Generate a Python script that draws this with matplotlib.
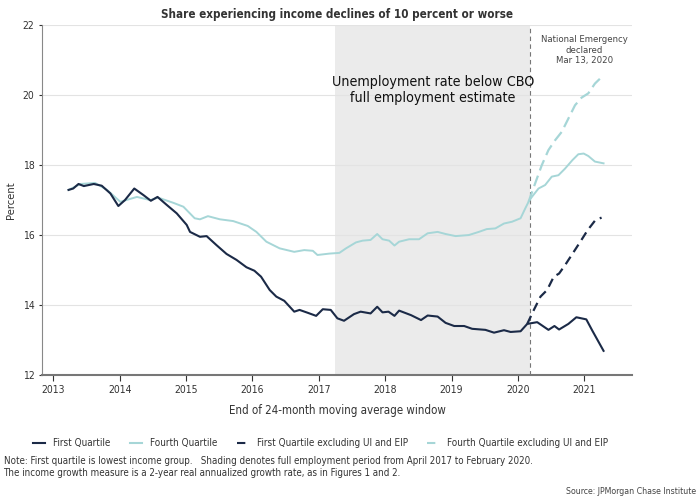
import matplotlib.pyplot as plt
from matplotlib.lines import Line2D

# first quartile (decimal year, percent)
q1_year = [2013.23, 2013.30, 2013.38, 2013.46, 2013.61, 2013.73, 2013.86, 2013.98, 2014.08, 2014.22,
           2014.36, 2014.47, 2014.57, 2014.71, 2014.86, 2015.01, 2015.06, 2015.21, 2015.31, 2015.46,
           2015.61, 2015.76, 2015.91, 2016.03, 2016.13, 2016.26, 2016.36, 2016.48, 2016.63, 2016.71,
           2016.83, 2016.96, 2017.06, 2017.18, 2017.28, 2017.38, 2017.53, 2017.63, 2017.78, 2017.88,
           2017.96, 2018.05, 2018.14, 2018.21, 2018.39, 2018.54, 2018.64, 2018.79, 2018.91, 2019.04,
           2019.19, 2019.31, 2019.51, 2019.64, 2019.79, 2019.89, 2020.04, 2020.14, 2020.29, 2020.46,
           2020.55, 2020.62, 2020.76, 2020.88, 2021.03, 2021.12, 2021.29]
q1_val = [17.29, 17.33, 17.46, 17.40, 17.46, 17.41, 17.19, 16.83, 17.00, 17.33,
          17.14, 16.98, 17.09, 16.86, 16.62, 16.29, 16.09, 15.95, 15.97, 15.71,
          15.46, 15.29, 15.08, 14.98, 14.81, 14.43, 14.24, 14.12, 13.81, 13.86,
          13.78, 13.69, 13.88, 13.86, 13.62, 13.55, 13.74, 13.81, 13.76, 13.95,
          13.79, 13.81, 13.69, 13.84, 13.71, 13.57, 13.70, 13.67, 13.49, 13.40,
          13.40, 13.32, 13.29, 13.21, 13.28, 13.23, 13.25, 13.46, 13.51, 13.29,
          13.40, 13.30, 13.46, 13.65, 13.59, 13.27, 12.69]

# fourth quartile
q4_year = [2013.23, 2013.41, 2013.63, 2013.81, 2014.01, 2014.26, 2014.46, 2014.58, 2014.81, 2014.96,
           2015.13, 2015.21, 2015.33, 2015.51, 2015.71, 2015.93, 2016.06, 2016.21, 2016.41, 2016.63,
           2016.78, 2016.91, 2016.98, 2017.16, 2017.31, 2017.41, 2017.56, 2017.66, 2017.78, 2017.88,
           2017.96, 2018.06, 2018.14, 2018.21, 2018.36, 2018.51, 2018.64, 2018.79, 2018.91, 2019.06,
           2019.26, 2019.41, 2019.53, 2019.66, 2019.79, 2019.91, 2020.04, 2020.11, 2020.16, 2020.21,
           2020.31, 2020.41, 2020.51, 2020.61, 2020.71, 2020.82, 2020.91, 2020.99, 2021.06, 2021.16,
           2021.29]
q4_val = [17.29, 17.46, 17.49, 17.29, 16.95, 17.09, 17.00, 17.07, 16.92, 16.81,
          16.48, 16.45, 16.54, 16.45, 16.40, 16.26, 16.09, 15.81, 15.62, 15.52,
          15.57, 15.55, 15.43, 15.47, 15.49, 15.62, 15.79, 15.84, 15.86, 16.03,
          15.88, 15.84, 15.70, 15.81, 15.88, 15.88, 16.05, 16.09, 16.03, 15.97,
          16.00, 16.09, 16.17, 16.19, 16.33, 16.38, 16.48, 16.76, 16.95, 17.09,
          17.33, 17.43, 17.67, 17.71, 17.90, 18.14, 18.31, 18.33, 18.26, 18.10,
          18.05]

# excluding UI and EIP
q1x_year = [2020.14, 2020.24, 2020.34, 2020.44, 2020.54, 2020.62, 2020.71, 2020.81, 2020.94, 2021.05,
            2021.16, 2021.26]
q1x_val = [13.46, 13.86, 14.24, 14.43, 14.81, 14.90, 15.14, 15.43, 15.81, 16.14, 16.41, 16.50]

q4x_year = [2020.16, 2020.26, 2020.36, 2020.46, 2020.56, 2020.66, 2020.76, 2020.86, 2020.96, 2021.06,
            2021.16, 2021.29]
q4x_val = [16.95, 17.48, 18.00, 18.43, 18.71, 18.95, 19.33, 19.71, 19.93, 20.05, 20.33, 20.57]

years = [2013, 2014, 2015, 2016, 2017, 2018, 2019, 2020, 2021]
shade_start, shade_end = 2017.25, 2020.18

navy = '#1b2a47'
teal = '#a6d6d7'

plt.rcParams['font.family'] = ['DejaVu Sans']
plt.rcParams['font.stretch'] = 'condensed'

fig = plt.figure(figsize=(7, 5.03), dpi=100)
ax = fig.add_axes([0.06, 0.2545, 0.843, 0.6955])

ax.axvspan(shade_start, shade_end, color='#ebebeb', zorder=0, lw=0)
ax.axvline(shade_end, color='#777777', ls=(0, (4, 3)), lw=0.8, zorder=1)

ax.plot(q4x_year, q4x_val, color=teal, lw=1.6, ls=(0, (5, 2.5)), zorder=3)
ax.plot(q4_year, q4_val, color=teal, lw=1.4, zorder=3)
ax.plot(q1x_year, q1x_val, color=navy, lw=1.6, ls=(0, (4, 2.5)), zorder=4)
ax.plot(q1_year, q1_val, color=navy, lw=1.5, zorder=4)

ax.set_xlim(2012.83, 2021.72)
ax.set_ylim(12, 22)
ax.set_yticks([12, 14, 16, 18, 20, 22])
ax.set_xticks(years)
ax.grid(axis='y', color='#e3e3e3', lw=0.8, zorder=0)
ax.set_axisbelow(True)
ax.tick_params(axis='both', labelsize=7.5, colors='#333333', length=4)
ax.tick_params(axis='y', length=2)
for s in ['top', 'right']:
    ax.spines[s].set_visible(False)
ax.spines['left'].set_color('#888888')
ax.spines['bottom'].set_color('#777777')
ax.spines['bottom'].set_linewidth(1.5)

ax.set_ylabel('Percent', fontsize=8, color='#333333', labelpad=5)
ax.set_xlabel('End of 24-month moving average window', fontsize=8.3, color='#333333', labelpad=6)
ax.set_title('Share experiencing income declines of 10 percent or worse',
             fontsize=8.4, fontweight='semibold', color='#333333', pad=5)

ax.text(2018.72, 20.15, 'Unemployment rate below CBO\nfull employment estimate',
        ha='center', va='center', fontsize=10.3, color='#111111', linespacing=1.2)
ax.text(2021.0, 21.28, 'National Emergency\ndeclared\nMar 13, 2020',
        ha='center', va='center', fontsize=6.8, color='#444444', linespacing=1.2)

handles = [
    Line2D([], [], color=navy, lw=1.5),
    Line2D([], [], color=teal, lw=1.5),
    Line2D([], [], color=navy, lw=1.5, ls=(0, (4, 2.5))),
    Line2D([], [], color=teal, lw=1.5, ls=(0, (4, 2.5))),
]
labels = ['First Quartile', 'Fourth Quartile', 'First Quartile excluding UI and EIP',
          'Fourth Quartile excluding UI and EIP']
fig.legend(handles, labels, loc='center left', bbox_to_anchor=(0.035, 0.119), ncol=4, frameon=False,
           fontsize=7.1, handlelength=1.2, handletextpad=0.8, columnspacing=2.0, labelcolor='#333333')

fig.text(0.005, 0.0716, 'Note: First quartile is lowest income group.   Shading denotes full employment '
         'period from April 2017 to February 2020.\nThe income growth measure is a 2-year real '
         'annualized growth rate, as in Figures 1 and 2.',
         fontsize=7.0, color='#333333', va='center', linespacing=1.25)
fig.text(0.995, 0.022, 'Source: JPMorgan Chase Institute', fontsize=6.3, color='#444444',
         ha='right', va='center')

fig.savefig('out.png', dpi=100)
